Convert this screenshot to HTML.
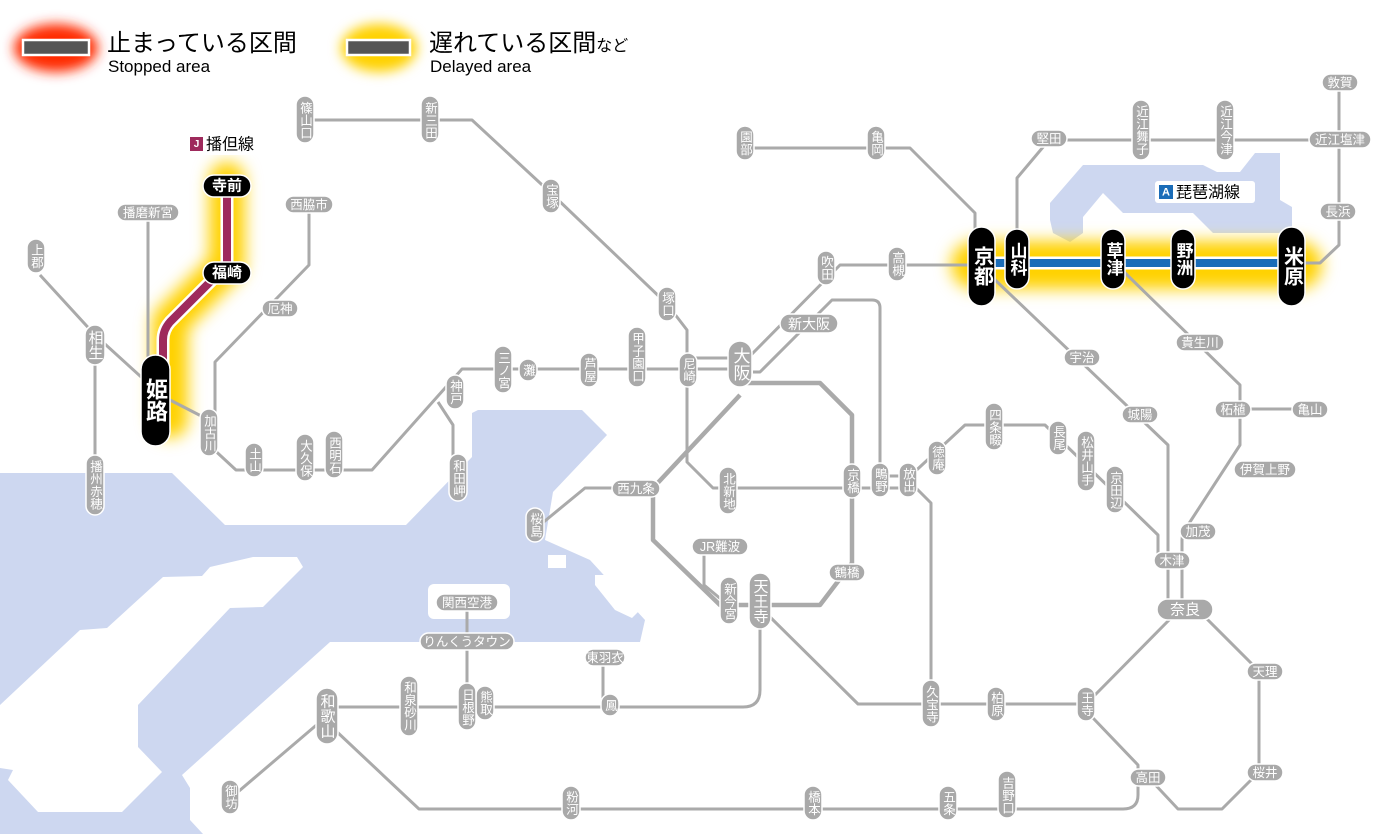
<!DOCTYPE html>
<html><head><meta charset="utf-8"><style>
html,body{margin:0;padding:0;background:#fff;}
svg{display:block;}
.l{fill:none;stroke:#aaa;stroke-width:3;stroke-linejoin:round}
.lt{fill:none;stroke:#aaa;stroke-width:4.5;stroke-linejoin:round}
.p{fill:#a9a9a9;stroke:#fff;stroke-width:1.5}
.t{fill:#fff;font-family:"Liberation Sans","Noto Sans CJK JP",sans-serif;font-size:12.5px;text-anchor:middle;dominant-baseline:central}
.v{writing-mode:vertical-rl;letter-spacing:0}
.b{fill:#000;stroke:#fff;stroke-width:1.5}
.bt{fill:#fff;font-family:"Liberation Sans","Noto Sans CJK JP",sans-serif;text-anchor:middle;dominant-baseline:central;font-weight:bold}
</style></head><body>
<svg width="1400" height="834" viewBox="0 0 1400 834" xmlns="http://www.w3.org/2000/svg">
<defs>
<filter id="bl" filterUnits="userSpaceOnUse" x="0" y="0" width="1400" height="834"><feGaussianBlur stdDeviation="8"/></filter>
<filter id="bl2" filterUnits="userSpaceOnUse" x="0" y="0" width="1400" height="834"><feGaussianBlur stdDeviation="6"/></filter>
</defs>

<!-- sea -->
<polygon fill="#cdd7f0" points="0,473 172,473 225,525 406,525 472,457 472,413 478,410 582,410 607,435 553,492 545,540 590,560 645,620 640,642 330,642 182,775 190,788 190,820 203,834 0,834"/>
<polygon fill="#fff" points="253,557 297,557 303,567 263,607 230,608 138,705 138,747 162,772 122,812 38,812 8,780 13,770 0,768 0,705 80,630 107,628 163,577 202,576 210,567"/>
<rect x="428" y="584" width="82" height="35" rx="6" fill="#fff"/>
<polygon fill="#fff" points="595,575 612,575 640,610 632,618 615,610 595,585"/>
<polygon fill="#fff" points="548,555 566,555 566,568 548,568"/>
<!-- lake -->
<polygon fill="#cdd7f0" points="1050,203 1083,165 1203,165 1217,172 1240,172 1255,153 1280,153 1280,200 1292,207 1292,233 1213,233 1193,213 1123,213 1103,193 1083,217 1083,233 1070,242 1053,233 1050,220"/>

<!-- glows -->
<path d="M227,180 V265 L170,322 V420" stroke="#ffd200" stroke-width="36" fill="none" filter="url(#bl)" stroke-linejoin="round" stroke-linecap="round"/>
<path d="M975,265 H1298" stroke="#ffd200" stroke-width="48" fill="none" filter="url(#bl)" stroke-linecap="round"/>

<!-- gray lines -->
<path class="l" d="M305,120 H472 L553,195 L667,304 L687,330 V462 L713,488 H852"/>
<path class="l" d="M745,148 H910 L975,213 V240"/>
<path class="l" d="M981,265 H840 L750,356"/>
<path class="l" d="M753,372 L760,372 L832,300 H872 Q880,300 880,308 V480"/>
<path class="l" d="M740,369 H462 L372,470 H236 L209,445 V420 L170,400"/>
<path class="l" d="M688,358 H740"/>
<path class="l" d="M150,385 L95,335 L40,275"/>
<path class="l" d="M95,345 V485"/>
<path class="l" d="M148,213 V385"/>
<path class="l" d="M309,204 V265 L215,362 V433"/>
<path class="l" d="M438,402 L453,425 V470"/>
<path class="lt" d="M740,383 H820 L852,415 V563 L820,605 H720 L653,540 V488 L740,395"/>
<path class="l" d="M620,488 H585 L540,525"/>
<path class="l" d="M704,546 V585 L722,600"/>
<path class="l" d="M760,620 V690 Q760,707 743,707 H327"/>
<path class="l" d="M603,657 V705"/>
<path class="l" d="M467,602 V707"/>
<path class="l" d="M320,722 L232,797"/>
<path class="l" d="M335,730 L419,809 H1123 Q1138,809 1138,795 V777"/>
<path class="l" d="M1138,777 V765 L1093,718"/>
<path class="l" d="M1093,697 L1172,617"/>
<path class="l" d="M1200,612 L1259,671 V772 L1222,809 H1178 L1148,777"/>
<path class="l" d="M765,612 L858,704 H1086"/>
<path class="l" d="M908,480 L931,503 V704"/>
<path class="l" d="M852,488 H908 M880,476 H908"/>
<path class="l" d="M908,478 L965,425 H1045 L1158,535 V560"/>
<path class="l" d="M990,275 L1168,445 V610"/>
<path class="l" d="M1120,268 L1240,385 V445 L1188,525 Q1182,532 1182,540 V610"/>
<path class="l" d="M1240,409 H1310"/>
<path class="l" d="M1017,240 V178 L1049,140 H1340"/>
<path class="l" d="M1339,82 V245 L1320,263 H1295"/>

<!-- Biwako line -->
<path d="M981,263 H1291" stroke="#fff" stroke-width="13" fill="none"/>
<path d="M981,263 H1291" stroke="#1a6cb8" stroke-width="8" fill="none"/>
<!-- Bantan line -->
<path d="M227,186 V265 L170,322 Q163,330 163,340 V400" stroke="#fff" stroke-width="13" fill="none" stroke-linejoin="round"/>
<path d="M227,186 V265 L170,322 Q163,330 163,340 V400" stroke="#9e2a5c" stroke-width="8" fill="none" stroke-linejoin="round"/>

<!-- legend -->
<ellipse cx="56" cy="48" rx="42" ry="24" fill="#ff2a00" filter="url(#bl2)"/>
<rect x="23" y="40" width="66" height="15" fill="#555" stroke="#fff" stroke-width="2.5"/>
<text x="107" y="51" font-family="'Liberation Sans','Noto Sans CJK JP',sans-serif" font-size="24" fill="#000">止まっている区間</text>
<text x="108" y="72" font-family="'Liberation Sans',sans-serif" font-size="17" fill="#000">Stopped area</text>
<ellipse cx="379" cy="48" rx="38" ry="24" fill="#ffd200" filter="url(#bl2)"/>
<rect x="347" y="40" width="63" height="15" fill="#555" stroke="#fff" stroke-width="2.5"/>
<text x="429" y="51" font-family="'Liberation Sans','Noto Sans CJK JP',sans-serif" font-size="24" fill="#000">遅れている区間<tspan font-size="16">など</tspan></text>
<text x="430" y="72" font-family="'Liberation Sans',sans-serif" font-size="17" fill="#000">Delayed area</text>

<!-- line name labels -->
<rect x="186" y="133" width="80" height="22" rx="3" fill="#fff"/>
<rect x="190" y="137" width="13" height="14" fill="#9e2a5c"/>
<text x="196.5" y="144.5" font-family="'Liberation Sans',sans-serif" font-size="10" font-weight="bold" fill="#fff" text-anchor="middle" dominant-baseline="central">J</text>
<text x="206" y="145" font-family="'Liberation Sans','Noto Sans CJK JP',sans-serif" font-size="16" fill="#000" dominant-baseline="central">播但線</text>
<rect x="1155" y="181" width="100" height="22" rx="3" fill="#fff"/>
<rect x="1159" y="185" width="14" height="14" fill="#1a6cb8"/>
<text x="1166" y="192.5" font-family="'Liberation Sans',sans-serif" font-size="11" font-weight="bold" fill="#fff" text-anchor="middle" dominant-baseline="central">A</text>
<text x="1176" y="193" font-family="'Liberation Sans','Noto Sans CJK JP',sans-serif" font-size="16" fill="#000" dominant-baseline="central">琵琶湖線</text>

<!-- vertical gray labels -->
<g>
<rect class="p" x="296" y="96" width="18" height="47" rx="9"/><text class="t v" x="305" y="120">篠山口</text>
<rect class="p" x="421" y="96" width="18" height="47" rx="9"/><text class="t v" x="430" y="120">新三田</text>
<rect class="p" x="542" y="179" width="18" height="34" rx="9"/><text class="t v" x="551" y="196">宝塚</text>
<rect class="p" x="27" y="239" width="18" height="34" rx="9"/><text class="t v" x="36" y="256">上郡</text>
<rect class="p" x="85" y="325" width="20" height="40" rx="10"/><text class="t v" x="95" y="345" style="font-size:15px">相生</text>
<rect class="p" x="86" y="455" width="18" height="60" rx="9"/><text class="t v" x="95" y="485">播州赤穂</text>
<rect class="p" x="200" y="409" width="18" height="47" rx="9"/><text class="t v" x="209" y="433">加古川</text>
<rect class="p" x="245" y="443" width="18" height="34" rx="9"/><text class="t v" x="254" y="460">土山</text>
<rect class="p" x="296" y="434" width="18" height="47" rx="9"/><text class="t v" x="305" y="458">大久保</text>
<rect class="p" x="325" y="431" width="18" height="47" rx="9"/><text class="t v" x="334" y="455">西明石</text>
<rect class="p" x="446" y="375" width="18" height="34" rx="9"/><text class="t v" x="455" y="392">神戸</text>
<rect class="p" x="449" y="454" width="18" height="47" rx="9"/><text class="t v" x="458" y="478">和田岬</text>
<rect class="p" x="494" y="346" width="18" height="47" rx="9"/><text class="t v" x="503" y="370">三ノ宮</text>
<rect class="p" x="519" y="359" width="18" height="22" rx="9"/><text class="t v" x="528" y="370">灘</text>
<rect class="p" x="580" y="353" width="18" height="34" rx="9"/><text class="t v" x="589" y="370">芦屋</text>
<rect class="p" x="628" y="327" width="18" height="60" rx="9"/><text class="t v" x="637" y="357">甲子園口</text>
<rect class="p" x="679" y="353" width="18" height="34" rx="9"/><text class="t v" x="688" y="370">尼崎</text>
<rect class="p" x="658" y="287" width="18" height="34" rx="9"/><text class="t v" x="667" y="304">塚口</text>
<rect class="p" x="728" y="341" width="24" height="46" rx="12"/><text class="t v" x="740" y="364" style="font-size:17px">大阪</text>
<rect class="p" x="817" y="251" width="18" height="34" rx="9"/><text class="t v" x="826" y="268">吹田</text>
<rect class="p" x="888" y="247" width="18" height="34" rx="9"/><text class="t v" x="897" y="264">高槻</text>
<rect class="p" x="867" y="126" width="18" height="34" rx="9"/><text class="t v" x="876" y="143">亀岡</text>
<rect class="p" x="736" y="126" width="18" height="34" rx="9"/><text class="t v" x="745" y="143">園部</text>
<rect class="p" x="1132" y="100" width="18" height="60" rx="9"/><text class="t v" x="1141" y="130">近江舞子</text>
<rect class="p" x="1216" y="100" width="18" height="60" rx="9"/><text class="t v" x="1225" y="130">近江今津</text>
<rect class="p" x="1077" y="687" width="18" height="34" rx="9"/><text class="t v" x="1086" y="704">王寺</text>
<rect class="p" x="987" y="687" width="18" height="34" rx="9"/><text class="t v" x="996" y="704">柏原</text>
<rect class="p" x="922" y="680" width="18" height="47" rx="9"/><text class="t v" x="931" y="704">久宝寺</text>
<rect class="p" x="899" y="463" width="18" height="34" rx="9"/><text class="t v" x="908" y="480">放出</text>
<rect class="p" x="871" y="463" width="18" height="34" rx="9"/><text class="t v" x="880" y="480">鴫野</text>
<rect class="p" x="843" y="464" width="18" height="34" rx="9"/><text class="t v" x="852" y="481">京橋</text>
<rect class="p" x="928" y="441" width="18" height="34" rx="9"/><text class="t v" x="937" y="458">徳庵</text>
<rect class="p" x="985" y="403" width="18" height="47" rx="9"/><text class="t v" x="994" y="427">四条畷</text>
<rect class="p" x="1049" y="421" width="18" height="34" rx="9"/><text class="t v" x="1058" y="438">長尾</text>
<rect class="p" x="1077" y="431" width="18" height="60" rx="9"/><text class="t v" x="1086" y="461">松井山手</text>
<rect class="p" x="1106" y="466" width="18" height="47" rx="9"/><text class="t v" x="1115" y="490">京田辺</text>
<rect class="p" x="719" y="467" width="18" height="47" rx="9"/><text class="t v" x="728" y="491">北新地</text>
<rect class="p" x="526" y="508" width="18" height="34" rx="9"/><text class="t v" x="535" y="525">桜島</text>
<rect class="p" x="720" y="577" width="18" height="47" rx="9"/><text class="t v" x="729" y="601">新今宮</text>
<rect class="p" x="749" y="573" width="22" height="56" rx="11"/><text class="t v" x="760" y="601" style="font-size:15px">天王寺</text>
<rect class="p" x="601" y="694" width="18" height="22" rx="9"/><text class="t v" x="610" y="705">鳳</text>
<rect class="p" x="476" y="686" width="18" height="34" rx="9"/><text class="t v" x="485" y="703">熊取</text>
<rect class="p" x="458" y="683" width="18" height="47" rx="9"/><text class="t v" x="467" y="707">日根野</text>
<rect class="p" x="400" y="676" width="18" height="60" rx="9"/><text class="t v" x="409" y="706">和泉砂川</text>
<rect class="p" x="316" y="688" width="22" height="56" rx="11"/><text class="t v" x="327" y="716" style="font-size:15px">和歌山</text>
<rect class="p" x="221" y="780" width="18" height="34" rx="9"/><text class="t v" x="230" y="797">御坊</text>
<rect class="p" x="562" y="786" width="18" height="34" rx="9"/><text class="t v" x="571" y="803">粉河</text>
<rect class="p" x="804" y="786" width="18" height="34" rx="9"/><text class="t v" x="813" y="803">橋本</text>
<rect class="p" x="939" y="786" width="18" height="34" rx="9"/><text class="t v" x="948" y="803">五条</text>
<rect class="p" x="998" y="771" width="18" height="47" rx="9"/><text class="t v" x="1007" y="795">吉野口</text>
</g>

<!-- horizontal gray labels -->
<g>
<rect class="p" x="117" y="204" width="62" height="17" rx="8.5"/><text class="t" x="148" y="213">播磨新宮</text>
<rect class="p" x="285" y="196" width="48" height="17" rx="8.5"/><text class="t" x="309" y="205">西脇市</text>
<rect class="p" x="262" y="300" width="36" height="17" rx="8.5"/><text class="t" x="280" y="309">厄神</text>
<rect class="p" x="780" y="314" width="58" height="19" rx="9.5"/><text class="t" x="809" y="324" style="font-size:14px">新大阪</text>
<rect class="p" x="1031" y="130" width="36" height="17" rx="8.5"/><text class="t" x="1049" y="139">堅田</text>
<rect class="p" x="1322" y="74" width="36" height="17" rx="8.5"/><text class="t" x="1340" y="83">敦賀</text>
<rect class="p" x="1309" y="131" width="62" height="17" rx="8.5"/><text class="t" x="1340" y="140">近江塩津</text>
<rect class="p" x="1320" y="203" width="36" height="17" rx="8.5"/><text class="t" x="1338" y="212">長浜</text>
<rect class="p" x="1064" y="349" width="36" height="17" rx="8.5"/><text class="t" x="1082" y="358">宇治</text>
<rect class="p" x="1176" y="334" width="48" height="17" rx="8.5"/><text class="t" x="1200" y="343">貴生川</text>
<rect class="p" x="1122" y="406" width="36" height="17" rx="8.5"/><text class="t" x="1140" y="415">城陽</text>
<rect class="p" x="1215" y="401" width="36" height="17" rx="8.5"/><text class="t" x="1233" y="410">柘植</text>
<rect class="p" x="1292" y="401" width="36" height="17" rx="8.5"/><text class="t" x="1310" y="410">亀山</text>
<rect class="p" x="1234" y="461" width="62" height="17" rx="8.5"/><text class="t" x="1265" y="470">伊賀上野</text>
<rect class="p" x="1180" y="523" width="36" height="17" rx="8.5"/><text class="t" x="1198" y="532">加茂</text>
<rect class="p" x="1154" y="552" width="36" height="17" rx="8.5"/><text class="t" x="1172" y="561">木津</text>
<rect class="p" x="1157" y="599" width="56" height="21" rx="10.5"/><text class="t" x="1185" y="610" style="font-size:15px">奈良</text>
<rect class="p" x="1247" y="663" width="36" height="17" rx="8.5"/><text class="t" x="1265" y="672">天理</text>
<rect class="p" x="1247" y="764" width="36" height="17" rx="8.5"/><text class="t" x="1265" y="773">桜井</text>
<rect class="p" x="1130" y="769" width="36" height="17" rx="8.5"/><text class="t" x="1148" y="778">高田</text>
<rect class="p" x="612" y="480" width="48" height="17" rx="8.5"/><text class="t" x="636" y="489">西九条</text>
<rect class="p" x="692" y="538" width="56" height="17" rx="8.5"/><text class="t" x="720" y="547">JR難波</text>
<rect class="p" x="829" y="564" width="36" height="17" rx="8.5"/><text class="t" x="847" y="573">鶴橋</text>
<rect class="p" x="436" y="594" width="62" height="17" rx="8.5"/><text class="t" x="467" y="603">関西空港</text>
<rect class="p" x="420" y="633" width="94" height="17" rx="8.5"/><text class="t" x="467" y="642">りんくうタウン</text>
<rect class="p" x="585" y="649" width="40" height="17" rx="8.5"/><text class="t" x="605" y="658">東羽衣</text>
</g>

<!-- black stations -->
<rect class="b" x="203" y="175" width="48" height="22" rx="11"/><text class="bt" x="227" y="186" font-size="15">寺前</text>
<rect class="b" x="203" y="262" width="48" height="22" rx="11"/><text class="bt" x="227" y="273" font-size="15">福崎</text>
<rect class="b" x="141" y="355" width="29" height="91" rx="14.5"/><text class="bt" x="155.5" y="400" font-size="22" style="writing-mode:vertical-rl">姫路</text>
<rect class="b" x="968" y="227" width="27" height="79" rx="13.5"/><text class="bt" x="981.5" y="266" font-size="20" style="writing-mode:vertical-rl">京都</text>
<rect class="b" x="1005" y="229" width="24" height="60" rx="12"/><text class="bt" x="1017" y="259" font-size="17" style="writing-mode:vertical-rl">山科</text>
<rect class="b" x="1101" y="229" width="24" height="60" rx="12"/><text class="bt" x="1113" y="259" font-size="17" style="writing-mode:vertical-rl">草津</text>
<rect class="b" x="1171" y="229" width="24" height="60" rx="12"/><text class="bt" x="1183" y="259" font-size="17" style="writing-mode:vertical-rl">野洲</text>
<rect class="b" x="1278" y="227" width="27" height="79" rx="13.5"/><text class="bt" x="1291.5" y="266" font-size="20" style="writing-mode:vertical-rl">米原</text>
</svg>
</body></html>
